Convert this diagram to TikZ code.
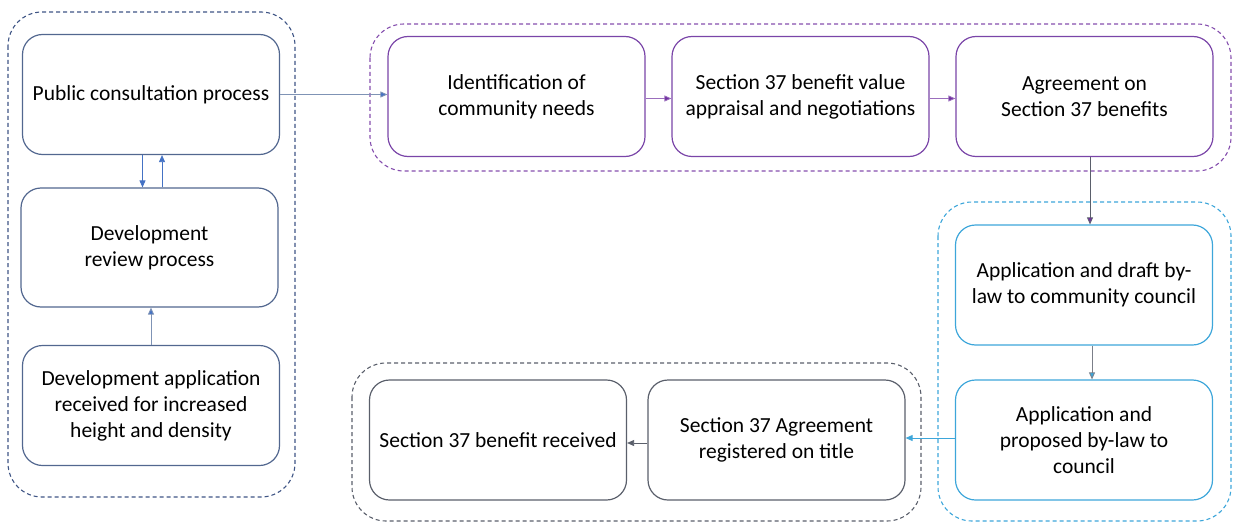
\documentclass[tikz,border=0pt]{standalone}
\usepackage{fontspec}
\setmainfont{Carlito}
\usetikzlibrary{arrows.meta}
\definecolor{navy}{HTML}{3F5585}
\definecolor{navybox}{HTML}{52678F}
\definecolor{blueA}{HTML}{4472C4}
\definecolor{lineA}{HTML}{7F93B5}
\definecolor{purp}{HTML}{7030A0}
\definecolor{purpbox}{HTML}{7A45A8}
\definecolor{cyan2}{HTML}{3DA6DA}
\definecolor{grayd}{HTML}{5A5F6B}
\tikzset{
  box/.style={draw, rounded corners=20pt, line width=1.2pt, minimum width=257pt, minimum height=120pt, align=center, font=\fontsize{21.5}{26}\selectfont, inner sep=2pt},
  grp/.style={draw, dashed, dash pattern=on 4pt off 3pt, line width=1.1pt, rounded corners=34pt},
  conn/.style={line width=0.8pt, -{Triangle[length=7pt,width=6pt]}},
}
\begin{document}
\begin{tikzpicture}[x=1pt,y=-1pt]
\useasboundingbox (0,0) rectangle (1233,524);
% groups
\draw[grp, navy] (8,12) rectangle (295,497);
\draw[grp, purp!85] (370,24) rectangle (1231,171);
\draw[grp, cyan2] (938,202) rectangle (1231,521);
\draw[grp, grayd] (352,363) rectangle (921,521);
% boxes
\node[box, draw=navybox] (b1) at (151,94.5) {Public consultation process};
\node[box, draw=navybox, minimum height=119pt] (b2) at (149.5,247.5) {Development\\review process};
\node[box, draw=navybox] (b3) at (151,405.5) {Development application\\received for increased\\height and density};
\node[box, draw=purpbox] (b4) at (516.5,96.5) {Identification of\\community needs};
\node[box, draw=purpbox] (b5) at (800.5,96.5) {Section 37 benefit value\\appraisal and negotiations};
\node[box, draw=purpbox] (b6) at (1084.5,96.5) {Agreement on\\Section 37 benefits};
\node[box, draw=cyan2] (b7) at (1084,285) {Application and draft by-\\law to community council};
\node[box, draw=cyan2] (b8) at (1084,440) {Application and\\proposed by-law to\\council};
\node[box, draw=grayd] (b9) at (498,440) {Section 37 benefit received};
\node[box, draw=grayd] (b10) at (776.5,440) {Section 37 Agreement\\registered on title};
% connectors
\draw[conn, draw=blueA, fill=blueA] ([xshift=-8.5pt]b1.south) -- ([xshift=-8.5pt]b2.north -| b1.south);
\draw[conn, draw=blueA, fill=blueA] ([xshift=12.5pt]b2.north) -- ([xshift=12.5pt]b2.north |- b1.south);
\draw[conn, draw=lineA, -{Triangle[length=7pt,width=6pt,fill=blueA]}] (b3.north) -- (b3.north |- b2.south);
\draw[conn, draw=lineA, -{Triangle[length=7pt,width=6pt,fill=blueA]}] (b1.east) -- (b1.east -| b4.west);
\draw[conn, draw=purp!70, -{Triangle[length=7pt,width=6pt,fill=purp]}] ([yshift=-2pt]b4.east) -- ([yshift=-2pt]b5.west);
\draw[conn, draw=purp!70, -{Triangle[length=7pt,width=6pt,fill=purp]}] ([yshift=-2pt]b5.east) -- ([yshift=-2pt]b6.west);
\draw[conn, draw=grayd, -{Triangle[length=7pt,width=6pt,fill=purp]}] ([xshift=5.5pt]b6.south) -- ([xshift=5.5pt]b6.south |- b7.north);
\draw[conn, draw=grayd!80, -{Triangle[length=7pt,width=6pt,fill=cyan2]}] ([xshift=8pt]b7.south) -- ([xshift=8pt]b7.south |- b8.north);
\draw[conn, draw=cyan2, fill=cyan2] ([yshift=2pt]b8.west) -- ([yshift=2pt]b10.east);
\draw[conn, draw=grayd, fill=grayd] ([yshift=-3pt]b10.west) -- ([yshift=-3pt]b9.east);
\end{tikzpicture}
\end{document}
